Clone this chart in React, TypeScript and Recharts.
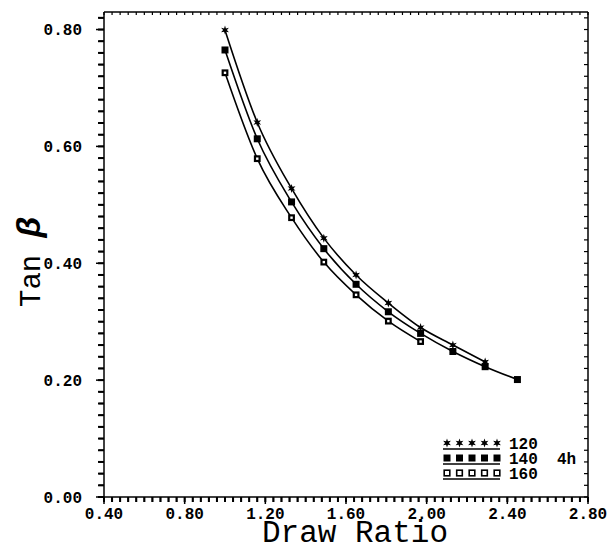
import { LineChart, Line, XAxis, YAxis } from 'recharts';

// draw ratio / tan beta
const ratio120 = [1.0, 1.16, 1.33, 1.49, 1.65, 1.81, 1.97, 2.13, 2.29];
const tan120 = [0.799, 0.641, 0.528, 0.443, 0.38, 0.332, 0.29, 0.26, 0.231];

const ratio140 = [1.0, 1.16, 1.33, 1.49, 1.65, 1.81, 1.97, 2.13, 2.29, 2.45];
const tan140 = [0.765, 0.613, 0.505, 0.425, 0.364, 0.317, 0.28, 0.249, 0.223, 0.201];

const ratio160 = [1.0, 1.16, 1.33, 1.49, 1.65, 1.81, 1.97];
const tan160 = [0.726, 0.579, 0.478, 0.402, 0.346, 0.301, 0.266];

const xMajorTicks = [0.4, 0.8, 1.2, 1.6, 2.0, 2.4, 2.8];
const yMajorTicks = [0.0, 0.2, 0.4, 0.6, 0.8];
const legendLabels = ['120', '140', '160'];
const legendNote = '4h';

const X_DOMAIN = [0.4, 2.8];
const Y_DOMAIN = [0, 0.83];

const W = 608;
const H = 550;
const M = { top: 12, right: 20, bottom: 0, left: 0 };
const Y_AXIS_W = 104;
const X_AXIS_H = 53;

const MONO = '"Liberation Mono", "DejaVu Sans Mono", monospace';

const toPoints = (xs: number[], ys: number[]) => xs.map((x, i) => ({ x, y: ys[i] }));
const data120 = toPoints(ratio120, tan120);
const data140 = toPoints(ratio140, tan140);
const data160 = toPoints(ratio160, tan160);

// minor tick positions
const steps = (from: number, to: number, step: number) => {
  const out: number[] = [];
  const n = Math.round((to - from) / step);
  for (let i = 0; i <= n; i++) out.push(+(from + i * step).toFixed(4));
  return out;
};
const xMinor = steps(0.4, 2.8, 0.04);
const yMinor = steps(0, 0.82, 0.02);

const isMajor = (v: number, list: number[]) => list.some((m) => Math.abs(m - v) < 1e-6);
const fmtX = (v: number) => (isMajor(v, xMajorTicks) ? v.toFixed(2) : '');
const fmtY = (v: number) => (isMajor(v, yMajorTicks) ? v.toFixed(2) : '');
const fmtNone = () => '';

const starPath = (cx: number, cy: number, ro: number, ri: number) => {
  let d = '';
  for (let i = 0; i < 12; i++) {
    const r = i % 2 === 0 ? ro : ri;
    const a = (Math.PI / 6) * i - Math.PI / 2;
    d += (i === 0 ? 'M' : 'L') + (cx + r * Math.cos(a)).toFixed(2) + ',' + (cy + r * Math.sin(a)).toFixed(2);
  }
  return d + 'Z';
};

const StarDot = (props: any) => {
  const { cx, cy } = props;
  if (cx == null || cy == null) return null;
  return <path d={starPath(cx, cy, 4.5, 1.9)} fill="#000" />;
};

const SquareDot = (props: any) => {
  const { cx, cy } = props;
  if (cx == null || cy == null) return null;
  return <rect x={cx - 3.5} y={cy - 3.5} width={7} height={7} fill="#000" />;
};

const OpenDot = (props: any) => {
  const { cx, cy, legend } = props;
  if (cx == null || cy == null) return null;
  const s = legend ? 5.6 : 4.6;
  return <rect x={cx - s / 2} y={cy - s / 2} width={s} height={s} fill="#fff" stroke="#000" strokeWidth={legend ? 1.6 : 2.2} />;
};

// tick combs along the frame (axis tick lines did not show up)
const TickMarks = () => {
  const left = M.left + Y_AXIS_W;
  const right = W - M.right;
  const top = M.top;
  const bottom = H - M.bottom - X_AXIS_H;
  const sx = (v: number) => left + ((v - X_DOMAIN[0]) / (X_DOMAIN[1] - X_DOMAIN[0])) * (right - left);
  const sy = (v: number) => bottom - ((v - Y_DOMAIN[0]) / (Y_DOMAIN[1] - Y_DOMAIN[0])) * (bottom - top);
  return (
    <g stroke="#000">
      {xMinor.map((v) => {
        const x = sx(v);
        const len = isMajor(v, xMajorTicks) ? 7 : 5;
        return (
          <g key={'x' + v}>
            <line x1={x} y1={bottom} x2={x} y2={bottom + len} strokeWidth={1.5} />
            <line x1={x} y1={top} x2={x} y2={top + 3} strokeWidth={1.2} />
          </g>
        );
      })}
      {yMinor.map((v) => {
        const y = sy(v);
        const len = isMajor(v, yMajorTicks) ? 8 : 5;
        return (
          <g key={'y' + v}>
            <line x1={left - len} y1={y} x2={left} y2={y} strokeWidth={1.5} />
            <line x1={right - 4} y1={y} x2={right} y2={y} strokeWidth={1.2} />
          </g>
        );
      })}
    </g>
  );
};

const LegendBlock = () => {
  const rows = [
    { label: legendLabels[0], Dot: StarDot },
    { label: legendLabels[1] + '  ' + legendNote, Dot: SquareDot },
    { label: legendLabels[2], Dot: OpenDot },
  ];
  return (
    <g>
      {rows.map((r, i) => {
        const y = 443 + i * 15;
        return (
          <g key={i}>
            {[0, 1, 2, 3, 4].map((k) => (
              <r.Dot key={k} cx={447 + k * 12.5} cy={y} legend />
            ))}
            <line x1={443} y1={y + 6} x2={500} y2={y + 6} stroke="#000" strokeWidth={1.5} />
            <text x={509} y={y + 6} fontFamily={MONO} fontWeight="bold" fontSize={16} fill="#000" style={{ whiteSpace: 'pre' }}>
              {r.label}
            </text>
          </g>
        );
      })}
    </g>
  );
};

const axisStyle = { stroke: '#000', strokeWidth: 1.5 };
const tickStyle = { stroke: '#000', strokeWidth: 2 };
const innerTickStyle = { stroke: '#000', strokeWidth: 1.5 };
const labelFont = { fill: '#000', fontFamily: MONO, fontWeight: 'bold', fontSize: 16 };
const hiddenFont = { fill: 'none', fontSize: 1 };

export default function App() {
  return (
    <div style={{ position: 'absolute', left: 0, top: 0, background: '#fff' }}>
      <LineChart width={W} height={H} margin={M}>
        <XAxis
          type="number"
          dataKey="x"
          domain={X_DOMAIN}
          ticks={xMinor}
          interval={0}
          height={X_AXIS_H}
          stroke="#000"
          tickSize={5}
          tickMargin={6}
          tickLine={tickStyle}
          tick={labelFont}
          tickFormatter={fmtX}
          axisLine={axisStyle}
          allowDataOverflow
        />
        <XAxis
          xAxisId="top"
          orientation="top"
          type="number"
          domain={X_DOMAIN}
          ticks={xMinor}
          interval={0}
          mirror
          stroke="#000"
          tickSize={3}
          tickLine={innerTickStyle}
          tick={hiddenFont}
          tickFormatter={fmtNone}
          axisLine={axisStyle}
        />
        <YAxis
          type="number"
          domain={Y_DOMAIN}
          ticks={yMinor}
          interval={0}
          width={Y_AXIS_W}
          stroke="#000"
          tickSize={6}
          tickMargin={16}
          tickLine={tickStyle}
          tick={labelFont}
          tickFormatter={fmtY}
          axisLine={axisStyle}
          allowDataOverflow
        />
        <YAxis
          yAxisId="right"
          orientation="right"
          type="number"
          domain={Y_DOMAIN}
          ticks={yMinor}
          interval={0}
          mirror
          stroke="#000"
          tickSize={4}
          tickLine={innerTickStyle}
          tick={hiddenFont}
          tickFormatter={fmtNone}
          axisLine={axisStyle}
        />
        <Line
          data={data120}
          dataKey="y"
          type="monotone"
          stroke="#000"
          strokeWidth={1.6}
          dot={<StarDot />}
          activeDot={false}
          isAnimationActive={false}
        />
        <Line
          data={data140}
          dataKey="y"
          type="monotone"
          stroke="#000"
          strokeWidth={1.6}
          dot={<SquareDot />}
          activeDot={false}
          isAnimationActive={false}
        />
        <Line
          data={data160}
          dataKey="y"
          type="monotone"
          stroke="#000"
          strokeWidth={1.6}
          dot={<OpenDot />}
          activeDot={false}
          isAnimationActive={false}
        />
        <TickMarks />
        <text x={355} y={542} textAnchor="middle" fontFamily={MONO} fontSize={31} fill="#000">
          Draw Ratio
        </text>
        <text
          x={40}
          y={262}
          transform="rotate(-90 40 262)"
          textAnchor="middle"
          fontFamily={MONO}
          fontSize={29}
          fill="#000"
        >
          Tan <tspan fontWeight="bold" fontStyle="italic" fontSize={34}>β</tspan>
        </text>
        <LegendBlock />
      </LineChart>
    </div>
  );
}
